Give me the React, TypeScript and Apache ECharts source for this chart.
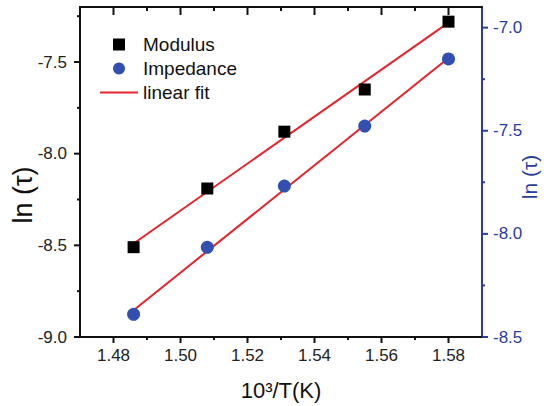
import React, { useEffect, useRef } from "react";
import * as echarts from "echarts";

const xValues = [1.486, 1.508, 1.531, 1.555, 1.58];
const modulusValues = [-8.51, -8.19, -7.88, -7.65, -7.28];
const impedanceValues = [-8.39, -8.065, -7.768, -7.477, -7.152];
const modulusFitX = [1.486, 1.58];
const modulusFitY = [-8.49, -7.285];
const impedanceFitX = [1.486, 1.58];
const impedanceFitY = [-8.37, -7.147];
const xRange = [1.47, 1.59];
const leftRange = [-9.0, -7.2];
const rightRange = [-8.5, -6.9];
const xMajorTicks = [1.48, 1.5, 1.52, 1.54, 1.56, 1.58];
const xMinorTicks = [1.49, 1.51, 1.53, 1.55, 1.57];
const leftMajorTicks = [-9.0, -8.5, -8.0, -7.5];
const leftMinorTicks = [-8.75, -8.25, -7.75, -7.25];
const rightMajorTicks = [-8.5, -8.0, -7.5, -7.0];
const rightMinorTicks = [-8.25, -7.75, -7.25];

const BLUE_AXIS = "#2a3c9e";
const BLUE_PT = "#3350b0";
const RED = "#e5232b";
const BLACK = "#111";

const zip = (xs: number[], ys: number[]) => xs.map((x, i) => [x, ys[i]]);

type TickSide = "bottom" | "top" | "left" | "right";

function tickSeries(values: number[], side: TickSide, len: number, color: string, yAxisIndex: number) {
  const yr = yAxisIndex === 0 ? leftRange : rightRange;
  const horizontal = side === "bottom" || side === "top";
  return {
    type: "custom",
    xAxisIndex: 0,
    yAxisIndex,
    silent: true,
    clip: false,
    z: 5,
    data: values.map((v) => (horizontal ? [v, yr[0]] : [xRange[0], v])),
    renderItem: (_params: any, api: any) => {
      let x1 = 0, y1 = 0, x2 = 0, y2 = 0;
      if (horizontal) {
        const v = api.value(0);
        const p = api.coord([v, side === "bottom" ? yr[0] : yr[1]]);
        x1 = x2 = p[0];
        y1 = p[1];
        y2 = p[1] + len;
      } else {
        const v = api.value(1);
        const p = api.coord([side === "left" ? xRange[0] : xRange[1], v]);
        y1 = y2 = p[1];
        x1 = p[0];
        x2 = side === "left" ? p[0] - len : p[0] + len;
      }
      return {
        type: "line",
        shape: { x1, y1, x2, y2 },
        style: { stroke: color, lineWidth: 2 },
      };
    },
  };
}

export default function App() {
  const ref = useRef<HTMLDivElement>(null);
  useEffect(() => {
    if (!ref.current) return;
    const chart = echarts.init(ref.current, undefined, { renderer: "svg" });
    const font = "'Liberation Sans', Arial, sans-serif";
    const isMult = (v: number, step: number) => Math.abs(v / step - Math.round(v / step)) < 1e-6;
    const xAxisDef = (pos: string, labels: boolean) => ({
      type: "value",
      position: pos,
      min: xRange[0],
      max: xRange[1],
      interval: 0.01,
      splitLine: { show: false },
      axisLine: { show: true, onZero: false, lineStyle: { color: BLACK, width: 2 } },
      axisTick: { show: false },
      axisLabel: labels
        ? {
            show: true,
            formatter: (v: number) => (isMult(v, 0.02) ? v.toFixed(2) : ""),
            fontFamily: font,
            fontSize: 17,
            color: "#222",
            margin: 10,
          }
        : { show: false },
    });
    const yAxisDef = (pos: string, range: number[], color: string, margin: number) => ({
      type: "value",
      position: pos,
      min: range[0],
      max: range[1],
      interval: 0.5,
      splitLine: { show: false },
      axisLine: { show: true, onZero: false, lineStyle: { color, width: 2 } },
      axisTick: { show: false },
      axisLabel: {
        show: true,
        formatter: (v: number) => (isMult(v, 0.5) ? v.toFixed(1) : ""),
        fontFamily: font,
        fontSize: 17,
        color: color === BLACK ? "#222" : color,
        margin,
        showMinLabel: true,
        showMaxLabel: true,
      },
    });
    chart.setOption({
      animation: false,
      grid: { left: 80, top: 7, right: 62, bottom: 69, containLabel: false },
      legend: {
        orient: "vertical",
        left: 100,
        top: 35,
        padding: 0,
        itemWidth: 38,
        itemHeight: 12,
        itemGap: 5,
        textStyle: { fontFamily: font, fontSize: 19, color: BLACK, lineHeight: 19 },
        data: [
          { name: "Modulus", icon: "path://M0,0H12V12H0Z" },
          { name: "Impedance", icon: "circle" },
          { name: "linear fit", icon: "path://M0,0H38V2.2H0Z" },
        ],
      },
      xAxis: [xAxisDef("bottom", true), xAxisDef("top", false)],
      yAxis: [yAxisDef("left", leftRange, BLACK, 13), yAxisDef("right", rightRange, BLUE_AXIS, 11)],
      series: [
        {
          name: "linear fit",
          type: "line",
          xAxisIndex: 0,
          yAxisIndex: 0,
          data: zip(modulusFitX, modulusFitY),
          symbol: "none",
          lineStyle: { color: RED, width: 2 },
          itemStyle: { color: RED },
          z: 1,
        },
        {
          name: "linear fit",
          type: "line",
          xAxisIndex: 0,
          yAxisIndex: 1,
          data: zip(impedanceFitX, impedanceFitY),
          symbol: "none",
          lineStyle: { color: RED, width: 2 },
          itemStyle: { color: RED },
          z: 1,
        },
        {
          name: "Modulus",
          type: "scatter",
          xAxisIndex: 0,
          yAxisIndex: 0,
          data: zip(xValues, modulusValues),
          symbol: "rect",
          symbolSize: 12,
          itemStyle: { color: "#000", opacity: 1 },
          z: 3,
        },
        {
          name: "Impedance",
          type: "scatter",
          xAxisIndex: 0,
          yAxisIndex: 1,
          data: zip(xValues, impedanceValues),
          symbol: "circle",
          symbolSize: 13,
          itemStyle: { color: BLUE_PT, opacity: 1 },
          z: 3,
        },
        tickSeries(xMajorTicks, "bottom", 6, BLACK, 0),
        tickSeries(xMinorTicks, "bottom", 3, BLACK, 0),
        tickSeries(xMajorTicks, "top", 8, BLACK, 0),
        tickSeries(xMinorTicks, "top", 4, BLACK, 0),
        tickSeries(leftMajorTicks, "left", 6, BLACK, 0),
        tickSeries(leftMinorTicks, "left", 3, BLACK, 0),
        tickSeries(rightMajorTicks, "right", 6, BLUE_AXIS, 1),
        tickSeries(rightMinorTicks, "right", 3, BLUE_AXIS, 1),
      ],
      graphic: [
        {
          type: "text",
          x: 23,
          y: 195,
          rotation: Math.PI / 2,
          style: { text: "ln (τ)", fontFamily: font, fontSize: 27, fill: BLACK, align: "center", verticalAlign: "middle" },
        },
        {
          type: "text",
          x: 529,
          y: 177,
          rotation: Math.PI / 2,
          style: { text: "ln (τ)", fontFamily: font, fontSize: 21, fill: BLUE_AXIS, align: "center", verticalAlign: "middle" },
        },
        {
          type: "text",
          x: 281,
          y: 390,
          style: { text: "10³/T(K)", fontFamily: font, fontSize: 22, fill: BLACK, align: "center", verticalAlign: "middle" },
        },
      ],
    });
    return () => chart.dispose();
  }, []);
  return <div ref={ref} style={{ position: "fixed", left: 0, top: 0, width: 544, height: 406, background: "#fff" }} />;
}
